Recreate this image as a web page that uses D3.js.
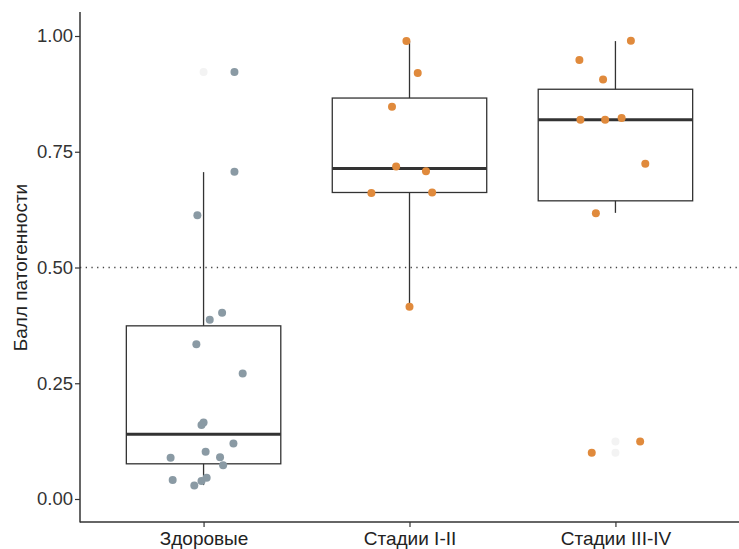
<!DOCTYPE html>
<html><head><meta charset="utf-8">
<script src="https://cdn.jsdelivr.net/npm/d3@7"></script>
<style>body{margin:0;background:#fff}svg{display:block}</style>
</head><body>
<script>
const categories = ["Здоровые", "Стадии I-II", "Стадии III-IV"];
const yTicks = [0, 0.25, 0.5, 0.75, 1.0];
const threshold = 0.5;
// box stats: [lowerWhisker, q1, median, q3, upperWhisker]
const boxHealthy = [0.030, 0.076, 0.140, 0.374, 0.706];
const boxEarly   = [0.415, 0.662, 0.714, 0.866, 0.989];
const boxLate    = [0.618, 0.644, 0.819, 0.885, 0.989];
// jittered points: [offset (in band units), value]
const ptsHealthy = [[0.15,0.922],[0.15,0.707],[-0.03,0.613],[0.09,0.402],[0.03,0.387],[-0.035,0.334],[0.19,0.271],[0.0,0.165],[-0.01,0.160],[0.145,0.120],[0.01,0.102],[-0.16,0.089],[0.08,0.090],[0.095,0.073],[-0.15,0.041],[0.015,0.046],[-0.01,0.039],[-0.045,0.029]];
const ptsEarly = [[-0.015,0.989],[0.04,0.920],[-0.085,0.847],[-0.065,0.718],[0.08,0.708],[-0.185,0.661],[0.11,0.662],[0.0,0.415]];
const ptsLate = [[0.075,0.990],[-0.175,0.948],[-0.06,0.906],[-0.17,0.819],[-0.05,0.819],[0.03,0.823],[0.145,0.724],[-0.095,0.617],[0.12,0.124],[-0.115,0.100]];
const ghostPts = [[0, 0, 0.922],[2, 0.0, 0.124],[2, 0.0, 0.100]];
const boxes = [boxHealthy, boxEarly, boxLate];
const points = [ptsHealthy, ptsEarly, ptsLate];
const colors = ["#8a9aa4", "#e08a3c", "#e08a3c"];

const W = 739, H = 549;
const svg = d3.select("body").append("svg").attr("width", W).attr("height", H);
const mLeft = 80, mRight = 739, mTop = 12, mBottom = 522;
const x = d3.scalePoint().domain(categories).range([mLeft, mRight]).padding(0.6);
const step = x.step();
const y = d3.scaleLinear().domain([0, 1]).range([499, 36]);
const font = "'Liberation Sans', Arial, sans-serif";

// threshold dotted line
svg.append("line").attr("x1", mLeft).attr("x2", mRight).attr("y1", y(threshold)).attr("y2", y(threshold))
  .attr("stroke", "#444").attr("stroke-width", 1.3).attr("stroke-dasharray", "1.3,4.4");

// boxes
const bw = step * 0.75;
boxes.forEach((b, i) => {
  const cx = x(categories[i]);
  const g = svg.append("g");
  g.append("line").attr("x1", cx).attr("x2", cx).attr("y1", y(b[4])).attr("y2", y(b[3])).attr("stroke", "#333").attr("stroke-width", 1.3);
  g.append("line").attr("x1", cx).attr("x2", cx).attr("y1", y(b[1])).attr("y2", y(b[0])).attr("stroke", "#333").attr("stroke-width", 1.3);
  g.append("rect").attr("x", cx - bw/2).attr("y", y(b[3])).attr("width", bw).attr("height", y(b[1]) - y(b[3]))
    .attr("fill", "none").attr("stroke", "#333").attr("stroke-width", 1.3);
  g.append("line").attr("x1", cx - bw/2).attr("x2", cx + bw/2).attr("y1", y(b[2])).attr("y2", y(b[2])).attr("stroke", "#333").attr("stroke-width", 3);
});

// ghost outliers
ghostPts.forEach(p => {
  svg.append("circle").attr("cx", x(categories[p[0]]) + p[1]*step).attr("cy", y(p[2])).attr("r", 4).attr("fill", "#f3f3f3");
});

// points
points.forEach((pts, i) => {
  const cx = x(categories[i]);
  svg.append("g").selectAll("circle").data(pts).join("circle")
    .attr("cx", d => cx + d[0]*step).attr("cy", d => y(d[1])).attr("r", 4)
    .attr("fill", colors[i]);
});

// axes
const yAxis = svg.append("g").attr("transform", `translate(${mLeft},0)`)
  .call(d3.axisLeft(y).tickValues(yTicks).tickFormat(d3.format(".2f")).tickSize(5).tickPadding(2));
yAxis.select(".domain").remove();
yAxis.append("line").attr("x1", 0).attr("x2", 0).attr("y1", mTop).attr("y2", mBottom + 0.5).attr("stroke", "#333").attr("stroke-width", 1.5);
yAxis.selectAll(".tick line").attr("stroke", "#333").attr("stroke-width", 1.2);
yAxis.selectAll("text").attr("font-family", font).attr("font-size", 18.5).attr("fill", "#333");

const xAxis = svg.append("g").attr("transform", `translate(0,${mBottom})`)
  .call(d3.axisBottom(x).tickSize(5).tickPadding(5));
xAxis.select(".domain").remove();
xAxis.append("line").attr("x1", mLeft).attr("x2", mRight).attr("y1", 0).attr("y2", 0).attr("stroke", "#333").attr("stroke-width", 1.5);
xAxis.selectAll(".tick line").attr("stroke", "#333").attr("stroke-width", 1.2);
xAxis.selectAll("text").attr("font-family", font).attr("font-size", 19).attr("fill", "#222");

svg.append("text").attr("transform", `translate(27,${y(0.5)}) rotate(-90)`).attr("text-anchor", "middle")
  .attr("font-family", font).attr("font-size", 19).attr("fill", "#222").text("Балл патогенности");
</script>
</body></html>
